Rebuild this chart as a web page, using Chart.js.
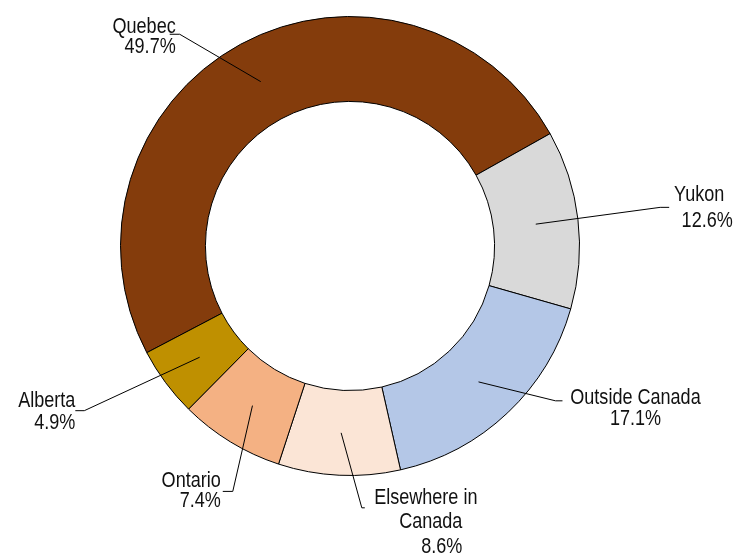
<!DOCTYPE html>
<html>
<head>
<meta charset="utf-8">
<script src="https://cdn.jsdelivr.net/npm/chart.js@4"></script>
<style>
  html, body { margin: 0; padding: 0; background: #fff; }
  #wrap { width: 739px; height: 559px; }
</style>
</head>
<body>
<div id="wrap"><canvas id="donut"></canvas></div>
<script>
// share of residents by place of birth / origin
const categories = ["Quebec", "Yukon", "Outside Canada", "Elsewhere in Canada", "Ontario", "Alberta"];
const shares = [49.7, 12.6, 17.1, 8.6, 7.4, 4.9];
const nameLines = [["Quebec"], ["Yukon"], ["Outside Canada"], ["Elsewhere in", "Canada"], ["Ontario"], ["Alberta"]];
const colors = ["#843C0C", "#D9D9D9", "#B4C7E7", "#FBE5D6", "#F4B183", "#BF9000"];

// leader line + label placement, one per slice
const callouts = [
    { elbowAng: -10.3, elbowR: 1.184, tick: -10, align: "right",  dx: 6,  dy: -1, lh: 20 },
    { elbowAng: -0.4,  elbowR: 1.362, tick: 9,   align: "center", dx: 34, dy: -6, lh: 26, shift: [-4, 4] },
    { elbowAng: -9.6,  elbowR: 1.121, tick: 7,   align: "center", dx: 73, dy: 3,  lh: 21 },
    { elbowAng: -5.3,  elbowR: 1.142, tick: 3,   align: "center", dx: 68, dy: -4, lh: 24.5, shift: [-7, -2, 9] },
    { elbowAng: -5.9,  elbowR: 1.185, tick: -10, align: "right",  dx: -2, dy: -4, lh: 20 },
    { elbowAng: 4.7,   elbowR: 1.362, tick: -9,  align: "right",  dx: 0,  dy: -4, lh: 22 }
];

const FONT_SIZE = 22;
const probe = document.createElement("canvas").getContext("2d");
probe.font = `${FONT_SIZE}px monospace`;
const w1 = probe.measureText("Outside Canada").width;
probe.font = `${FONT_SIZE}px "Liberation Sans Narrow", monospace`;
const hasNarrow = Math.abs(probe.measureText("Outside Canada").width - w1) > 0.5;
const labelFont = hasNarrow ? `${FONT_SIZE}px "Liberation Sans Narrow"` : `${FONT_SIZE}px "Liberation Sans"`;
const squeeze = hasNarrow ? 1 : 0.82;

const calloutPlugin = {
    id: "callouts",
    afterDatasetsDraw(chart) {
        const ctx = chart.ctx;
        const arcs = chart.getDatasetMeta(0).data;
        ctx.save();
        ctx.strokeStyle = "#000";
        ctx.lineWidth = 1;
        ctx.fillStyle = "#111";
        ctx.font = labelFont;
        arcs.forEach((arc, i) => {
            const c = callouts[i];
            const mid = (arc.startAngle + arc.endAngle) / 2;
            const rMid = (arc.innerRadius + arc.outerRadius) / 2;
            const p0 = { x: arc.x + Math.cos(mid) * rMid, y: arc.y + Math.sin(mid) * rMid };
            const ea = mid + c.elbowAng * Math.PI / 180;
            const p1 = { x: arc.x + Math.cos(ea) * arc.outerRadius * c.elbowR, y: arc.y + Math.sin(ea) * arc.outerRadius * c.elbowR };
            const p2 = { x: p1.x + c.tick, y: p1.y };
            ctx.beginPath();
            ctx.moveTo(p0.x, p0.y);
            ctx.lineTo(p1.x, p1.y);
            ctx.lineTo(p2.x, p2.y);
            ctx.stroke();

            const lines = nameLines[i].concat([shares[i].toFixed(1) + "%"]);
            ctx.textAlign = c.align;
            ctx.textBaseline = "alphabetic";
            lines.forEach((t, k) => {
                const sx = c.shift ? c.shift[k] : 0;
                ctx.save();
                ctx.translate(p2.x + c.dx + sx, p2.y + c.dy + k * c.lh);
                ctx.scale(squeeze, 1);
                ctx.fillText(t, 0, 0);
                ctx.restore();
            });
        });
        ctx.restore();
    }
};

new Chart(document.getElementById("donut").getContext("2d"), {
    type: "doughnut",
    data: {
        labels: categories,
        datasets: [{ data: shares, backgroundColor: colors, borderColor: "#000", borderWidth: 1 }]
    },
    options: {
        responsive: true,
        maintainAspectRatio: false,
        animation: false,
        rotation: -117.7,
        cutout: "63%",
        layout: { padding: { top: 16, left: 120, right: 159, bottom: 83 } },
        plugins: { legend: { display: false }, tooltip: { enabled: false } }
    },
    plugins: [calloutPlugin]
});
</script>
</body>
</html>
